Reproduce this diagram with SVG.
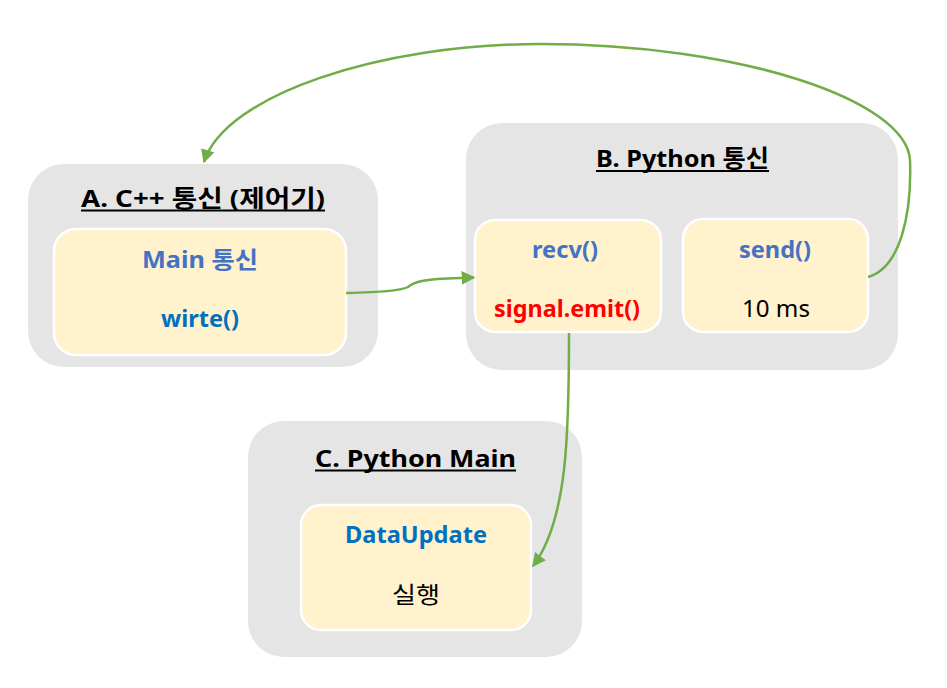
<svg xmlns="http://www.w3.org/2000/svg" width="947" height="688" viewBox="0 0 947 688">
<style>
.box{fill:#E5E5E5;}
.inner{fill:#FFF2CC;stroke:#FFFFFF;stroke-width:2.5;}
text{font-family:"Noto Sans","Noto Sans CJK KR",sans-serif;font-size:23px;text-anchor:middle;}
.t{font-weight:bold;fill:#000;font-size:24px;}
.ul{stroke:#000;stroke-width:2;}
.b1{font-weight:bold;fill:#4472C4;}
.b2{font-weight:bold;fill:#0070C0;}
.red{font-weight:bold;fill:#FF0000;}
.plain{fill:#000;}
.conn{fill:none;stroke:#70AD47;stroke-width:2.5;}
</style>
<defs>
<marker id="ah" viewBox="0 0 10 10" refX="9" refY="5" markerWidth="5.5" markerHeight="5.5" orient="auto" markerUnits="strokeWidth">
<path d="M0,0 L10,5 L0,10 z" fill="#70AD47"/>
</marker>
</defs>
<rect width="947" height="688" fill="#FFFFFF"/>
<g id="nodeA">
<rect class="box" x="28" y="164" width="350" height="203" rx="36"/>
<text class="t" x="203" y="207" textLength="244" lengthAdjust="spacingAndGlyphs">A. C++ 통신 (제어기)</text>
<line class="ul" x1="81" y1="210.5" x2="325" y2="210.5"/>
<rect class="inner" x="54" y="229" width="292" height="126" rx="22"/>
<text class="b1" x="200" y="268" textLength="116" lengthAdjust="spacingAndGlyphs">Main 통신</text>
<text class="b2" x="200" y="327" textLength="78" lengthAdjust="spacingAndGlyphs">wirte()</text>
</g>
<g id="nodeB">
<rect class="box" x="466" y="123" width="432" height="247" rx="36"/>
<text class="t" x="682.5" y="167" textLength="173" lengthAdjust="spacingAndGlyphs">B. Python 통신</text>
<line class="ul" x1="596" y1="171" x2="769" y2="171"/>
<rect class="inner" x="475" y="220" width="186" height="112" rx="20"/>
<text class="b1" x="565" y="258" textLength="66" lengthAdjust="spacingAndGlyphs">recv()</text>
<text class="red" x="567" y="317" textLength="146" lengthAdjust="spacingAndGlyphs">signal.emit()</text>
<rect class="inner" x="683" y="219" width="185" height="113" rx="20"/>
<text class="b1" x="775" y="258" textLength="72" lengthAdjust="spacingAndGlyphs">send()</text>
<text class="plain" x="776" y="317" textLength="68" lengthAdjust="spacingAndGlyphs">10 ms</text>
</g>
<g id="nodeC">
<rect class="box" x="248" y="421" width="334" height="236" rx="36"/>
<text class="t" x="415.5" y="467" textLength="201" lengthAdjust="spacingAndGlyphs">C. Python Main</text>
<line class="ul" x1="315" y1="470.5" x2="516" y2="470.5"/>
<rect class="inner" x="301" y="505" width="230" height="125" rx="20"/>
<text class="b2" x="416" y="543" textLength="142" lengthAdjust="spacingAndGlyphs">DataUpdate</text>
<text class="plain" x="416" y="603" textLength="48" lengthAdjust="spacingAndGlyphs">실행</text>
</g>
<g id="connectors">
<path class="conn" d="M346,293 C 380,292 400,291 408,287 C 414,282 422,279 460,278 L 474,277.5" marker-end="url(#ah)"/>
<path class="conn" d="M569,333 C 569,430 568,520 533,566" marker-end="url(#ah)"/>
<path class="conn" d="M868,277 C 900,268 912,215 910,160 C 906,100 740,44 540,44 C 380,44 225,95 204,162" marker-end="url(#ah)"/>
</g>
</svg>
